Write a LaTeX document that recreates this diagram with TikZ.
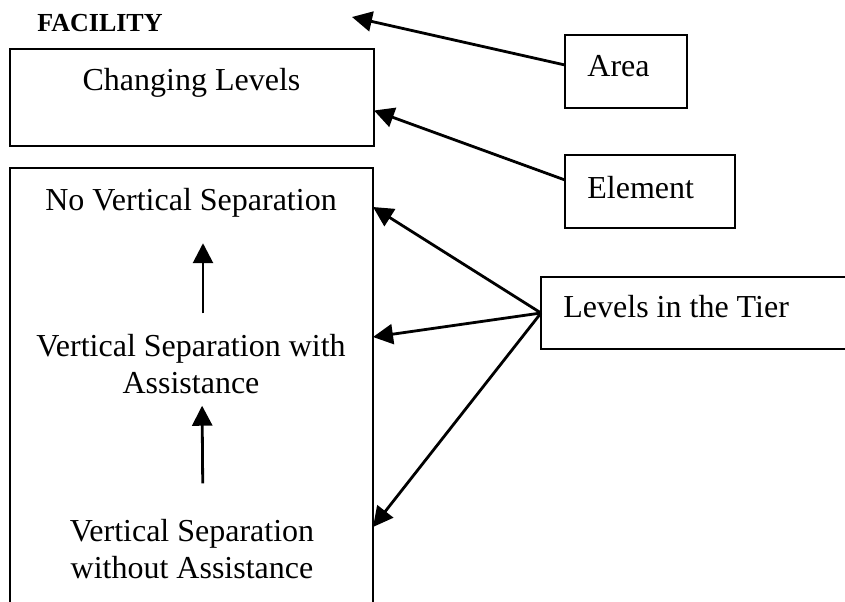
\documentclass[tikz,border=0pt]{standalone}
\usepackage{fontspec}
\setmainfont{Liberation Serif}
\usetikzlibrary{arrows.meta}
\begin{document}
\begin{tikzpicture}[x=0.5pt, y=-0.5pt,
  box/.style={draw, line width=1.4pt, inner sep=0pt, outer sep=0pt, rectangle},
  lbl/.style={inner sep=0pt, font=\fontsize{16}{18.5}\selectfont, align=center},
  arr/.style={line width=1.4pt, -{Triangle[length=10pt,width=10pt]}}]
\useasboundingbox (0,0) rectangle (845,601);
\clip (0,0) rectangle (845,601);

% heading
\node[inner sep=0pt, anchor=base west, font=\fontsize{13}{15}\selectfont\bfseries] (fac) at (37,31) {FACILITY};
\coordinate (factip) at (352,17);

% area / element boxes
\node[box, minimum width=182pt, minimum height=48.5pt] (cl) at (192,97.5) {};
\node[lbl, anchor=base] (cltext) at (191.5,90) {Changing Levels};

\node[box, minimum width=61pt, minimum height=36.5pt] (area) at (626,71.5) {};
\node[lbl, anchor=base west] (areatext) at (587,76) {Area};

\node[box, minimum width=85pt, minimum height=36.5pt] (elem) at (650,191.5) {};
\node[lbl, anchor=base west] (elemtext) at (587,198) {Element};

% tier levels (base anchor of a two-line label sits on its last line)
\node[box, minimum width=181.5pt, minimum height=236pt] (big) at (191.5,404) {};
\node[lbl, anchor=base] (nvs) at (191,210) {No Vertical Separation};
\node[lbl, anchor=base] (vsa) at (191,393) {Vertical Separation with\\Assistance};
\node[lbl, anchor=base] (vswa) at (192,578) {Vertical Separation\\without Assistance};

\node[box, minimum width=169.5pt, minimum height=36pt] (tier) at (710.5,313) {};
\node[lbl, anchor=base west] (tiertext) at (563,317) {Levels in the Tier};

% connectors
\draw[arr] ([yshift=3.25pt]area.west) -- (factip);
\draw[arr] ([yshift=5.75pt]elem.west) -- ([yshift=-6.5pt]cl.east);
\draw[arr] (tier.west) -- ([yshift=98.5pt]big.east);
\draw[arr] (tier.west) -- ([yshift=33.5pt]big.east);
\draw[arr] (tier.west) -- ([yshift=-61.5pt]big.east);

\draw[arr, shorten <=10pt, shorten >=13pt] ([xshift=6pt]vsa.north) -- ([xshift=6pt]nvs.south);
\draw[arr, shorten <=17.5pt, shorten >=6pt] ([xshift=5.5pt]vswa.north) -- ([xshift=5.5pt]vsa.south);
\end{tikzpicture}
\end{document}
